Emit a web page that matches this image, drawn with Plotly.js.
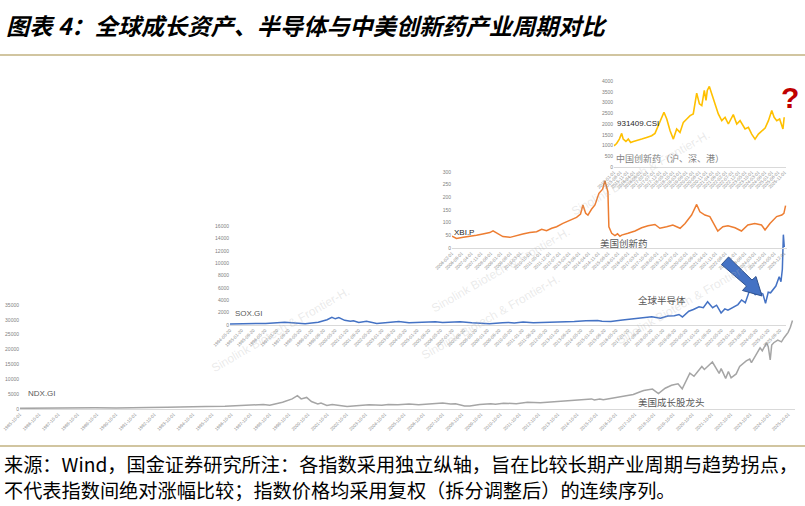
<!DOCTYPE html>
<html><head><meta charset="utf-8">
<script src="https://cdn.plot.ly/plotly-3.0.1.min.js"></script>
<style>html,body{margin:0;padding:0;background:#fff}#chart{width:805px;height:506px}</style>
</head><body><div id="chart"></div>
<script>
// ---------- data ----------
const ndxDates = ['1985-10-01','1986-06-01','1987-08-01','1987-11-01','1988-08-01','1989-09-01','1990-10-01','1991-06-01','1992-06-01','1993-06-01','1994-06-01','1995-06-01','1996-06-01','1997-06-01','1998-06-01','1998-10-01','1999-06-01','1999-12-01','2000-03-10','2000-05-20','2000-09-01','2000-12-01','2001-04-01','2001-06-01','2001-09-20','2002-01-01','2002-07-20','2002-10-10','2003-06-01','2003-12-01','2004-08-01','2004-12-01','2005-06-01','2006-01-01','2006-07-01','2007-01-01','2007-10-01','2008-03-01','2008-06-01','2008-11-20','2009-03-01','2009-09-01','2010-04-01','2010-07-01','2010-12-01','2011-08-01','2012-03-01','2012-11-01','2013-06-01','2013-12-01','2014-10-01','2015-07-01','2015-08-25','2015-12-05','2016-02-10','2016-08-01','2017-03-01','2017-09-01','2018-01-25','2018-03-20','2018-09-01','2018-12-24','2019-05-01','2019-08-29','2019-12-31','2020-03-20','2020-08-12','2020-10-30','2021-03-28','2021-05-15','2021-10-15','2022-02-20','2022-03-30','2022-06-24','2022-08-15','2022-10-05','2023-01-10','2023-03-17','2023-07-20','2023-09-24','2023-10-27','2024-01-15','2024-04-08','2024-05-20','2024-08-10','2024-09-10','2024-10-18','2024-11-15','2024-12-24','2025-03-10','2025-05-20','2025-07-08','2025-08-20','2025-09-23','2025-11-05','2025-12-15'];
const ndxValues = [230,300,380,260,300,400,320,460,500,560,580,820,950,1200,1500,1300,2300,3400,4500,3400,3900,2500,1700,2000,1200,1550,1000,850,1150,1400,1250,1550,1450,1650,1450,1750,2050,1650,1800,1050,1000,1500,1800,1600,1950,1800,2250,2100,2400,2800,3000,3400,3050,3400,3100,3600,4300,4900,5900,6250,6700,5200,7000,8000,8500,6800,12100,11000,14300,13300,15800,12000,13600,10300,12600,10500,11800,14300,16200,16800,15600,18200,20600,19600,22300,21000,16500,21500,22300,23200,22600,24000,24800,25800,27500,29800];

const soxDates = ['1994-05-20','1995-01-01','1995-09-01','1996-06-01','1997-07-01','1998-01-01','1998-09-01','1999-06-01','1999-12-01','2000-03-10','2000-05-20','2000-08-01','2000-12-01','2001-04-01','2001-06-01','2001-09-20','2002-03-01','2002-10-01','2003-06-01','2004-01-01','2004-08-01','2005-06-01','2006-02-01','2006-07-01','2007-07-01','2008-03-01','2008-11-20','2009-03-01','2009-12-01','2010-04-01','2010-08-01','2011-02-01','2011-09-01','2012-06-01','2013-06-01','2014-01-01','2014-09-01','2015-05-01','2015-08-01','2016-02-01','2016-10-01','2017-06-01','2018-01-01','2018-06-01','2018-12-01','2019-05-01','2019-09-15','2019-12-20','2020-03-01','2020-07-12','2020-10-15','2021-02-10','2021-05-10','2021-08-07','2021-11-20','2022-02-10','2022-05-15','2022-08-01','2022-10-05','2023-02-25','2023-05-01','2023-07-15','2023-10-01','2024-01-08','2024-03-01','2024-04-25','2024-08-10','2024-10-01','2024-11-25','2025-01-20','2025-03-10','2025-06-28','2025-09-05','2025-10-12','2025-11-10','2025-11-25','2025-12-01','2025-12-20'];
const soxValues = [150,180,320,260,450,300,220,450,850,1250,1000,1200,750,600,700,400,600,250,420,550,370,450,520,420,520,360,200,220,360,420,340,480,350,390,470,560,680,720,600,560,800,1050,1300,1350,1100,1450,1500,1700,1300,2230,2500,2950,2800,3750,2800,3200,1950,2600,2400,2950,3300,4050,3600,5800,5300,4900,5200,5000,3500,5300,5200,6300,7800,7000,9000,11500,14600,12600];

const xbiDates = ['2006-02-01','2006-05-10','2006-10-05','2007-03-01','2007-07-20','2007-12-05','2008-05-05','2008-07-15','2008-11-01','2009-02-15','2009-07-20','2009-12-10','2010-04-25','2010-09-25','2011-02-20','2011-06-10','2011-09-25','2012-01-15','2012-05-01','2012-09-15','2013-02-15','2013-07-10','2013-10-05','2013-11-25','2014-01-25','2014-03-15','2014-06-01','2014-08-15','2014-11-10','2015-01-30','2015-03-20','2015-04-25','2015-05-25','2015-06-15','2015-08-15','2015-10-25','2015-12-20','2016-02-10','2016-03-20','2016-08-05','2017-01-05','2017-05-30','2017-10-15','2018-03-15','2018-07-01','2018-11-25','2019-04-10','2019-09-15','2020-01-01','2020-05-22','2020-09-10','2020-11-20','2021-03-10','2021-06-25','2021-10-15','2021-12-15','2022-04-05','2022-07-25','2022-12-25','2023-05-15','2023-10-01','2024-03-01','2024-07-25','2024-10-10','2025-01-25','2025-06-20','2025-10-10','2025-11-25','2026-01-01'];
const xbiValues = [47,38,42,45,50,55,61,68,55,45,42,50,55,61,64,74,68,78,84,97,111,121,134,170,137,130,153,170,216,232,266,236,222,84,58,49,56,46,51,58,67,80,88,93,78,84,91,78,97,130,172,143,130,124,84,67,84,88,80,67,91,97,91,71,97,124,130,137,167];

const csiDates = ['2015-01-01','2015-03-03','2015-05-05','2015-06-28','2015-08-03','2015-10-04','2015-11-28','2016-01-22','2016-03-25','2016-06-10','2016-10-05','2017-01-26','2017-05-23','2017-08-08','2017-10-23','2018-01-12','2018-03-04','2018-05-08','2018-07-24','2018-10-08','2018-12-24','2019-03-11','2019-05-27','2019-08-15','2019-10-31','2020-01-12','2020-04-01','2020-06-03','2020-07-28','2020-09-24','2020-11-03','2020-12-02','2021-01-19','2021-03-15','2021-05-31','2021-08-15','2021-11-03','2022-01-19','2022-04-05','2022-07-28','2022-10-17','2023-01-01','2023-04-27','2023-07-13','2023-09-28','2023-12-14','2024-03-01','2024-05-20','2024-08-04','2024-10-20','2025-01-05','2025-03-01','2025-05-01','2025-07-06','2025-08-30','2025-09-21','2025-10-20'];
const csiValues = [984,1094,1297,1562,1297,1188,1297,1140,1188,1219,1297,1375,1453,1562,1922,2234,2547,2234,1688,1297,1766,1609,2078,2234,2390,2469,3438,2938,2860,3562,3094,3562,3750,3406,2938,2469,2156,2312,2000,2437,2000,2156,1766,1844,1531,1297,1531,1688,1812,2156,2625,2312,2156,2234,1922,1766,2312];

const ndxYTicks = [0,5000,10000,15000,20000,25000,30000,35000];
const soxYTicks = [0,2000,4000,6000,8000,10000,12000,14000,16000];
const xbiYTicks = [0,50,100,150,200,250,300];
const csiYTicks = [0,500,1000,1500,2000,2500,3000,3500,4000];

// ---------- layout helpers ----------
const W = 805, H = 506;
const px = x => x / W;
const py = y => 1 - y / H;

function xAx(x0, x1, r, dtick, anchor) {
  return {type:'date', domain:[px(x0), px(x1)], range:r, anchor:anchor,
    showline:true, linecolor:'#d9d9d9', linewidth:1, showgrid:false, zeroline:false,
    ticks:'', tickangle:-45, tickformat:'%Y-%m-%d', dtick:dtick, tick0:r[0],
    tickfont:{size:4.5, color:'#8c8c8c', family:'Liberation Sans'}, fixedrange:true};
}
function yAx(y0, y1, max, ticks, anchor) {
  return {domain:[py(y0), py(y1)], range:[0, max], anchor:anchor, tickvals:ticks,
    tickformat:'d', showgrid:false, zeroline:false, showline:false, ticks:'',
    tickfont:{size:5, color:'#7f7f7f', family:'Liberation Sans'}, fixedrange:true};
}

const traces = [
  {x:ndxDates, y:ndxValues, xaxis:'x', yaxis:'y', mode:'lines', line:{color:'#a5a5a5', width:1.5}, hoverinfo:'skip'},
  {x:soxDates, y:soxValues, xaxis:'x2', yaxis:'y2', mode:'lines', line:{color:'#4472c4', width:1.5}, hoverinfo:'skip'},
  {x:xbiDates, y:xbiValues, xaxis:'x3', yaxis:'y3', mode:'lines', line:{color:'#ed7d31', width:1.5}, hoverinfo:'skip'},
  {x:csiDates, y:csiValues, xaxis:'x4', yaxis:'y4', mode:'lines', line:{color:'#ffc000', width:1.6}, hoverinfo:'skip'}
];

function ann(text, x, y, size, color, extra) {
  return Object.assign({text:text, x:px(x), y:py(y), xref:'paper', yref:'paper', showarrow:false,
    xanchor:'left', yanchor:'middle', font:{size:size, color:color, family:'Liberation Sans, Noto Sans CJK SC'}}, extra || {});
}
const cjk = 'Noto Sans CJK SC';
const wm = 'Sinolink Biotech & Frontier-H.';
const wmFont = {size:12, color:'rgba(180,180,180,0.28)', family:'Liberation Sans'};

const annotations = [
  ann('NDX.GI', 26, 393, 8, '#595959'),
  ann('美国成长股龙头', 636, 402, 9.5, '#595959', {font:{size:9.5, color:'#595959', family:cjk}}),
  ann('SOX.GI', 233, 313, 8, '#595959'),
  ann('全球半导体', 636, 300, 9.5, '#595959', {font:{size:9.5, color:'#595959', family:cjk}}),
  ann('XBI.P', 452, 232, 8, '#262626'),
  ann('美国创新药', 598, 243, 9.5, '#595959', {font:{size:9.5, color:'#595959', family:cjk}}),
  ann('931409.CSI', 615, 123, 8, '#262626'),
  ann('中国创新药（沪、深、港）', 614, 158, 9, '#7f7f7f', {font:{size:9, color:'#7f7f7f', family:cjk}}),
  ann('?', 790, 97, 30, '#c00000', {xanchor:'center', font:{size:30, color:'#c00000', family:'Liberation Sans', weight:'bold'}}),
  {text:wm, x:px(565), y:py(365), xref:'paper', yref:'paper', showarrow:false, textangle:-30, font:wmFont},
  {text:wm, x:px(575), y:py(270), xref:'paper', yref:'paper', showarrow:false, textangle:-30, font:wmFont},
  {text:wm, x:px(715), y:py(125), xref:'paper', yref:'paper', showarrow:false, textangle:-30, font:wmFont},
  {text:wm, x:px(280), y:py(330), xref:'paper', yref:'paper', showarrow:false, textangle:-30, font:wmFont},
  {text:wm, x:px(760), y:py(350), xref:'paper', yref:'paper', showarrow:false, textangle:-30, font:wmFont},
  ann('来源：Wind，国金证券研究所注：各指数采用独立纵轴，旨在比较长期产业周期与趋势拐点，', 2, 464, 19.2, '#000', {font:{size:19.2, color:'#000', family:cjk}}),
  ann('不代表指数间绝对涨幅比较；指数价格均采用复权（拆分调整后）的连续序列。', 2, 490, 19.2, '#000', {font:{size:19.2, color:'#000', family:cjk}})
];

// block arrow (pixel geometry converted to paper coords)
const arrowPts = [[721.5,264.5],[746.5,286],[742.5,290.5],[762,296],[756,276.5],[752,280],[728.5,257]];
const arrowPath = 'M ' + arrowPts.map(p => px(p[0]).toFixed(5) + ',' + py(p[1]).toFixed(5)).join(' L ') + ' Z';

const shapes = [
  {type:'line', xref:'paper', yref:'paper', x0:0, x1:1, y0:py(55), y1:py(55), line:{color:'#c2b280', width:1.5}},
  {type:'line', xref:'paper', yref:'paper', x0:0, x1:1, y0:py(446), y1:py(446), line:{color:'#c2b280', width:1.5}},
  {type:'path', xref:'paper', yref:'paper', path:arrowPath, fillcolor:'#4472c4', line:{color:'#2f528f', width:1}}
];

const layout = {
  width:W, height:H, margin:{l:0, r:0, t:0, b:0},
  paper_bgcolor:'#ffffff', plot_bgcolor:'rgba(0,0,0,0)', showlegend:false,
  title:{text:'图表 4：全球成长资产、半导体与中美创新药产业周期对比', x:px(6), y:py(27), xanchor:'left', yanchor:'middle',
    xref:'paper', yref:'paper',
    font:{family:cjk, size:23.2, color:'#000', weight:'bold', style:'italic'}},
  xaxis: xAx(20, 795, ['1985-10-01','2026-02-01'], 'M12', 'y'),
  yaxis: yAx(409, 305, 35000, ndxYTicks, 'x'),
  xaxis2: xAx(230, 786, ['1994-05-20','2026-01-25'], 'M8', 'y2'),
  yaxis2: yAx(325, 226, 16000, soxYTicks, 'x2'),
  xaxis3: xAx(452, 787, ['2006-02-01','2026-02-01'], 'M7', 'y3'),
  yaxis3: yAx(248, 172, 300, xbiYTicks, 'x3'),
  xaxis4: xAx(614, 786, ['2015-01-01','2025-12-01'], 'M5', 'y4'),
  yaxis4: yAx(167, 81, 4000, csiYTicks, 'x4'),
  annotations: annotations,
  shapes: shapes
};

Plotly.newPlot('chart', traces, layout, {displayModeBar:false, staticPlot:true});
</script>
</body></html>
